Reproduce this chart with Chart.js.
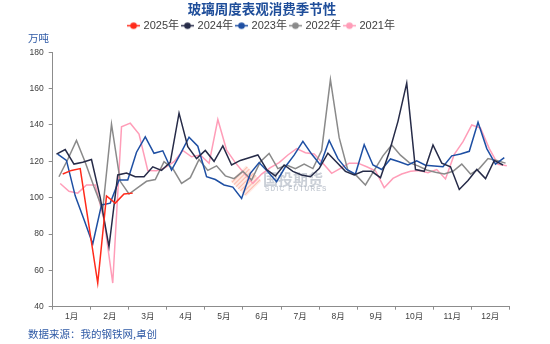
<!DOCTYPE html>
<html>
<head>
<meta charset="utf-8">
<script src="https://cdn.jsdelivr.net/npm/chart.js@4/dist/chart.umd.min.js"></script>
<style>
  html, body { margin: 0; padding: 0; background: #ffffff; }
  canvas { display: block; }
</style>
</head>
<body>
<canvas id="chart" width="550" height="344"></canvas>
<script>
// Month names along the x axis
const monthLabels = ['1月', '2月', '3月', '4月', '5月', '6月', '7月', '8月', '9月', '10月', '11月', '12月'];

// One line per year
const seriesNames = ['2025年', '2024年', '2023年', '2022年', '2021年'];

// Date of the first weekly reading of each year (weekly, Thursdays)
const firstWeeks = ['2025-01-09', '2024-01-04', '2023-01-05', '2022-01-06', '2021-01-07'];

// Weekly apparent consumption, 万吨 (null = no reading that week)
const values2025 = [113, 115, 116, null, 53, 101, 97, 102, 102.5];
const values2024 = [124, 126.5, 118.5, 119.5, 121, 100, 73, 112.5, 113.5, 111.5, 111.5, 117, 115, 119.5, 146.5, 128, 121.5, 126, 120, 128.5,
                    118, 120.5, 122, 123.5, 115.5, 112, 118, 114.5, 112.5, 111.5, 116, 124.5, 119.5, 114.5, 112.5, 114.5, 114.5, 111, 125, 142,
                    163, 115.5, 114.5, 129, 119, 117, 104.5, 109.5, 115.5, 110.5, 120.5, 118];
const values2023 = [124, 120.5, 101, 88, 74.5, 96, 97, 109.7, 109.7, 125, 133.5, 124.4, 125.8, 115.2, 124, 133.3, 128.3, 111.5, 110, 107,
                    105.8, 99.6, 113.4, 119.3, 114.3, 108.8, 117, 123.4, 131, 124, 118, 131.5, 121.5, 115.5, 113, 129.2, 118, 115.5, 121.3, 119.8,
                    118, 120.3, 117.9, 117.4, 117, 123, 124, 125.5, 141.5, 127, 118.5, 122];
const values2022 = [111.5, 121, 131.5, 119.5, 106, 93.5, 140.5, 109, 102, 105.5, 109, 110, 119.8, 116, 107.8, 111, 121, 115, 117.5, 112,
                    110.5, 114.5, 109.7, 119.8, 124.4, 116, 118, 116, 118.5, 116, 126, 165, 133, 115, 112, 107, 115, 123, 129, 123.4,
                    119.3, 117.5, 115.2, 114, 113, 114.5, 118.5, 113, 116, 121.5, 120.5, 119];
const values2021 = [107.8, 103.5, 102.5, 107, 107, 88, 53, 139, 141, 135, 115, 114.8, 116.5, 119.8, 126, 122.5, 123.5, 118.9, 143, 126.2,
                    119.3, 113.4, 107.8, 113, 116.5, 119.3, 123.5, 127, 124.7, 124, 119, 113.4, 116.1, 119, 119, 117, 114.8, 105.5, 110.6, 113,
                    114.5, 115, 113.7, 115.5, 110.3, 123.8, 130.8, 140, 138.3, 127, 118.3, 117.6];

// Y axis range and step
const yTicks = { min: 40, max: 180, step: 20 };

const seriesValues = [values2025, values2024, values2023, values2022, values2021];
const seriesColors = ['#ff2a1a', '#262b48', '#1e4fa3', '#8a8a8a', '#ff9db8'];

const FONT = "'Liberation Sans', 'Noto Sans CJK SC', sans-serif";
const AXIS_COLOR = '#8c8c8c';
const TEXT_COLOR = '#404040';
const DAYS = 365;
const MONTH_SPAN = DAYS / 12;

// Day of the year (0 = 1 January) of a date string
function dayOfYear(dateStr) {
  const d = new Date(dateStr + 'T00:00:00Z');
  return (d.getTime() - Date.UTC(d.getUTCFullYear(), 0, 1)) / 86400000;
}

// Legend marker: a short line with a dot in the middle
function makeMarker(color) {
  const c = document.createElement('canvas');
  c.width = 13; c.height = 9;
  const g = c.getContext('2d');
  g.strokeStyle = color; g.lineWidth = 1.5;
  g.beginPath(); g.moveTo(0, 4.5); g.lineTo(13, 4.5); g.stroke();
  g.fillStyle = color;
  g.beginPath(); g.arc(6.5, 4.5, 3.3, 0, Math.PI * 2); g.fill();
  return c;
}

const datasets = seriesNames.map((name, s) => {
  const start = dayOfYear(firstWeeks[s]);
  return {
    label: name,
    data: seriesValues[s].map((v, i) => ({ x: start + 7 * i, y: v })),
    borderColor: seriesColors[s],
    backgroundColor: seriesColors[s],
    borderWidth: 1.5,
    tension: 0,
    pointRadius: 0,
    pointHoverRadius: 0,
    pointStyle: makeMarker(seriesColors[s]),
    spanGaps: true,
    fill: false
  };
});

// Month boundaries get tick marks, month middles carry the labels
const xTickValues = [];
for (let m = 0; m <= 12; m++) {
  xTickValues.push(m * MONTH_SPAN);
  if (m < 12) xTickValues.push((m + 0.5) * MONTH_SPAN);
}
const isBoundary = v => Math.abs(v / MONTH_SPAN - Math.round(v / MONTH_SPAN)) < 1e-6;

// Unit label, source note and the faint house logo
const decorations = {
  id: 'decorations',
  beforeDatasetsDraw(chart) {
    const g = chart.ctx;
    g.save();
    // logo diamond with hatching
    g.translate(246, 181);
    g.rotate(Math.PI / 4);
    g.beginPath(); g.rect(-11, -11, 22, 22); g.clip();
    g.fillStyle = 'rgba(255, 170, 150, 0.25)';
    g.fillRect(-11, -11, 22, 22);
    g.strokeStyle = 'rgba(250, 130, 100, 0.45)';
    g.lineWidth = 1;
    for (let k = -30; k <= 30; k += 3) {
      g.beginPath(); g.moveTo(k, -16); g.lineTo(k, 16); g.stroke();
    }
    g.restore();
    g.save();
    g.fillStyle = 'rgba(150, 160, 175, 0.5)';
    g.textBaseline = 'middle';
    g.textAlign = 'left';
    g.font = "bold 15px 'Noto Sans CJK SC', sans-serif";
    g.fillText('国投期货', 263, 179.5);
    g.font = "bold 6.5px 'Liberation Sans', sans-serif";
    if ('letterSpacing' in g) g.letterSpacing = '1.2px';
    g.fillText('SDIC FUTURES', 265, 189.5);
    g.restore();
  },
  afterDraw(chart) {
    const g = chart.ctx;
    g.save();
    g.fillStyle = '#2f5aa6';
    g.textBaseline = 'middle';
    g.textAlign = 'left';
    g.font = "10.5px 'Noto Sans CJK SC', sans-serif";
    g.fillText('万吨', 28, 38.5);
    g.fillText('数据来源：我的钢铁网,卓创', 28, 334);
    g.restore();
  }
};

new Chart(document.getElementById('chart').getContext('2d'), {
  type: 'line',
  data: { datasets },
  plugins: [decorations],
  options: {
    responsive: false,
    animation: false,
    devicePixelRatio: 1,
    events: [],
    layout: { padding: { left: 14.7, right: 40.7, top: 0, bottom: 0 } },
    plugins: {
      title: {
        display: true,
        text: '玻璃周度表观消费季节性',
        color: '#1f4e9a',
        font: { family: "'Noto Sans CJK SC', sans-serif", size: 13.5, weight: 'bold', lineHeight: 1 },
        padding: { top: 2, bottom: 0.7 }
      },
      legend: {
        display: true,
        labels: {
          usePointStyle: true,
          pointStyleWidth: 9,
          padding: 4,
          color: TEXT_COLOR,
          font: { family: FONT, size: 11 }
        }
      },
      subtitle: {
        display: true,
        text: '',
        weight: 500,
        font: { size: 10, lineHeight: 1 },
        padding: { top: 0, bottom: 1.1 }
      },
      tooltip: { enabled: false }
    },
    scales: {
      x: {
        type: 'linear',
        min: 0,
        max: DAYS,
        afterFit(scale) { scale.height = 37.3; },
        afterBuildTicks(scale) { scale.ticks = xTickValues.map(v => ({ value: v })); },
        ticks: {
          autoSkip: false,
          maxRotation: 0,
          minRotation: 0,
          padding: 1.5,
          color: TEXT_COLOR,
          font: { family: FONT, size: 8.5 },
          callback: v => isBoundary(v) ? '' : monthLabels[Math.floor(v / MONTH_SPAN)]
        },
        grid: {
          drawOnChartArea: false,
          tickLength: 3,
          color: AXIS_COLOR,
          tickColor: c => (c.tick && isBoundary(c.tick.value)) ? AXIS_COLOR : 'rgba(0,0,0,0)'
        },
        border: { display: true, color: AXIS_COLOR, width: 1 }
      },
      y: {
        min: yTicks.min,
        max: yTicks.max,
        afterFit(scale) { scale.width = 38; },
        ticks: {
          stepSize: yTicks.step,
          padding: 5,
          color: TEXT_COLOR,
          font: { family: FONT, size: 8.5 }
        },
        grid: { drawOnChartArea: false, tickLength: 4, color: AXIS_COLOR },
        border: { display: true, color: AXIS_COLOR, width: 1 }
      }
    }
  }
});
</script>
</body>
</html>
